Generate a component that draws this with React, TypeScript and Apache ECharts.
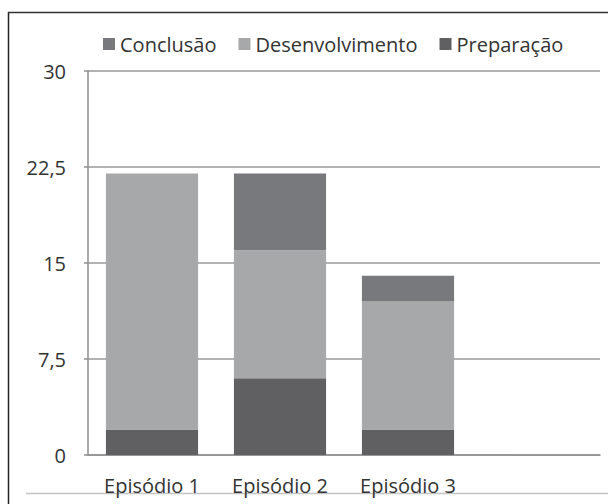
import React, { useEffect, useRef } from "react";
import * as echarts from "echarts";

const categories = ["Episódio 1", "Episódio 2", "Episódio 3", ""];
const preparacao = [2, 6, 2, "-"];
const desenvolvimento = [20, 10, 10, "-"];
const conclusao = ["-", 6, 2, "-"];
const legendOrder = ["Conclusão", "Desenvolvimento", "Preparação"];

const FONT = "'Open Sans', 'Noto Sans', sans-serif";

export default function App() {
  const ref = useRef<HTMLDivElement>(null);
  useEffect(() => {
    if (!ref.current) return;
    const chart = echarts.init(ref.current, undefined, { renderer: "svg" });
    const common = { type: "bar", stack: "total", barCategoryGap: "28%" };
    chart.setOption({
      animation: false,
      backgroundColor: "#ffffff",
      textStyle: { fontFamily: FONT },
      legend: {
        data: legendOrder,
        left: 103,
        top: 34,
        padding: 0,
        itemWidth: 12,
        itemHeight: 12,
        itemGap: 22,
        icon: "rect",
        textStyle: { fontFamily: FONT, fontSize: 20, color: "#333" },
      },
      grid: { left: 88, right: 8, top: 71, bottom: 49, containLabel: false },
      xAxis: {
        type: "category",
        data: categories,
        axisLine: { show: true, lineStyle: { color: "#8f8f8f", width: 1.5 } },
        axisTick: { show: false },
        axisLabel: { fontFamily: FONT, fontSize: 20, color: "#333", margin: 20, interval: 0 },
      },
      yAxis: {
        type: "value",
        min: 0,
        max: 30,
        interval: 7.5,
        axisLine: { show: true, lineStyle: { color: "#8f8f8f", width: 1.5 } },
        axisTick: { show: true, length: 4, lineStyle: { color: "#8f8f8f", width: 1.5 } },
        splitLine: { show: true, lineStyle: { color: "#999", width: 1.5 } },
        axisLabel: {
          fontFamily: FONT,
          fontSize: 20,
          color: "#333",
          margin: 22,
          formatter: (v: number) => String(v).replace(".", ","),
        },
      },
      series: [
        { ...common, name: "Preparação", data: preparacao, itemStyle: { color: "#606062" } },
        { ...common, name: "Desenvolvimento", data: desenvolvimento, itemStyle: { color: "#a7a8aa" } },
        { ...common, name: "Conclusão", data: conclusao, itemStyle: { color: "#78797c" } },
      ],
      graphic: [
        { type: "line", shape: { x1: 8.5, y1: 12, x2: 8.5, y2: 504 }, style: { stroke: "#222", lineWidth: 1.5 } },
        { type: "line", shape: { x1: 8, y1: 12.5, x2: 608, y2: 12.5 }, style: { stroke: "#333", lineWidth: 1.5 } },
        { type: "line", shape: { x1: 26, y1: 493.5, x2: 608, y2: 493.5 }, style: { stroke: "#c4c4c4", lineWidth: 1.5 } },
      ],
    });
    return () => chart.dispose();
  }, []);
  return (
    <div
      ref={ref}
      style={{ position: "fixed", left: 0, top: 0, width: 608, height: 504 }}
    />
  );
}
